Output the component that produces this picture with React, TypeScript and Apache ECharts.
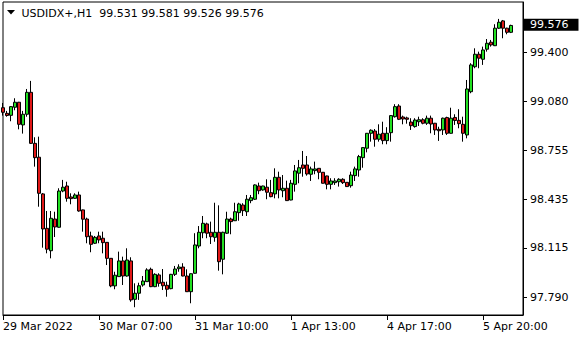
import React, { useEffect, useRef } from "react";
import * as echarts from "echarts";

const symbolTitle = "USDIDX+,H1";

const open = [
  99.036, 98.999, 98.986, 99.039, 99.072, 98.923, 98.993, 99.137, 98.802, 98.711,
  98.470, 98.244, 98.097, 98.305, 98.251, 98.489, 98.522, 98.450, 98.441, 98.463,
  98.365, 98.305, 98.194, 98.146, 98.194, 98.179, 98.152, 98.047, 97.866, 97.927,
  98.030, 97.931, 98.030, 97.778, 97.818, 97.872, 97.894, 97.975, 97.861, 97.938,
  97.890, 97.870, 97.848, 97.942, 97.979, 97.990, 97.931, 97.828, 97.949, 98.128,
  98.215, 98.273, 98.218, 98.185, 98.218, 98.041, 98.212, 98.305, 98.294, 98.347,
  98.397, 98.353, 98.426, 98.435, 98.522, 98.496, 98.514, 98.478, 98.470, 98.579,
  98.491, 98.507, 98.430, 98.533, 98.606, 98.660, 98.660, 98.599, 98.623, 98.638,
  98.612, 98.588, 98.533, 98.544, 98.550, 98.566, 98.546, 98.524, 98.590, 98.627,
  98.708, 98.770, 98.868, 98.883, 98.829, 98.868, 98.820, 98.872, 98.977, 99.047,
  98.975, 98.969, 98.942, 98.912, 98.944, 98.957, 98.934, 98.967, 98.934, 98.894,
  98.890, 98.971, 98.868, 98.972, 98.953, 98.927, 98.857, 99.141, 99.305, 99.387,
  99.354, 99.420, 99.466, 99.443, 99.558, 99.606, 99.558, 99.531,
];

const close = [
  99.006, 98.985, 99.043, 99.072, 98.927, 98.993, 99.137, 98.802, 98.708, 98.474,
  98.240, 98.107, 98.310, 98.253, 98.489, 98.514, 98.441, 98.439, 98.463, 98.358,
  98.304, 98.189, 98.139, 98.185, 98.168, 98.150, 98.047, 97.866, 97.936, 98.030,
  97.931, 98.036, 97.774, 97.818, 97.867, 97.898, 97.971, 97.861, 97.942, 97.883,
  97.867, 97.844, 97.942, 97.977, 97.990, 97.931, 97.828, 97.946, 98.135, 98.218,
  98.277, 98.212, 98.189, 98.218, 98.025, 98.218, 98.305, 98.288, 98.353, 98.404,
  98.360, 98.435, 98.445, 98.529, 98.491, 98.522, 98.481, 98.452, 98.579, 98.496,
  98.507, 98.426, 98.540, 98.621, 98.642, 98.638, 98.601, 98.634, 98.634, 98.612,
  98.540, 98.533, 98.555, 98.555, 98.566, 98.544, 98.518, 98.594, 98.634, 98.715,
  98.774, 98.868, 98.888, 98.829, 98.862, 98.820, 98.868, 98.984, 99.043, 98.960,
  98.962, 98.960, 98.918, 98.955, 98.957, 98.934, 98.967, 98.929, 98.890, 98.885,
  98.967, 98.868, 98.967, 98.952, 98.931, 98.868, 99.159, 99.317, 99.387, 99.361,
  99.415, 99.459, 99.448, 99.558, 99.597, 99.558, 99.531, 99.576,
];

const low = [
  98.984, 98.977, 98.947, 99.019, 98.894, 98.866, 98.977, 98.798, 98.649, 98.386,
  98.117, 98.080, 98.047, 98.187, 98.248, 98.481, 98.419, 98.402, 98.437, 98.353,
  98.222, 98.146, 98.087, 98.141, 98.146, 98.080, 98.003, 97.857, 97.844, 97.925,
  97.872, 97.927, 97.762, 97.726, 97.774, 97.861, 97.892, 97.858, 97.858, 97.861,
  97.839, 97.795, 97.844, 97.931, 97.959, 97.929, 97.826, 97.752, 97.947, 98.113,
  98.179, 98.179, 98.141, 98.156, 97.966, 97.942, 98.207, 98.205, 98.292, 98.294,
  98.325, 98.325, 98.409, 98.430, 98.468, 98.491, 98.435, 98.448, 98.441, 98.441,
  98.448, 98.424, 98.428, 98.485, 98.540, 98.583, 98.590, 98.555, 98.599, 98.566,
  98.538, 98.500, 98.500, 98.529, 98.518, 98.535, 98.516, 98.511, 98.555, 98.583,
  98.642, 98.743, 98.813, 98.780, 98.813, 98.796, 98.796, 98.813, 98.971, 98.955,
  98.927, 98.931, 98.890, 98.905, 98.916, 98.927, 98.923, 98.868, 98.857, 98.818,
  98.857, 98.857, 98.866, 98.923, 98.901, 98.813, 98.835, 99.131, 99.295, 99.295,
  99.317, 99.404, 99.437, 99.441, 99.553, 99.492, 99.518, 99.526,
];

const high = [
  99.067, 99.015, 99.047, 99.098, 99.074, 99.015, 99.159, 99.212, 98.842, 98.846,
  98.476, 98.358, 98.358, 98.353, 98.507, 98.562, 98.550, 98.474, 98.474, 98.485,
  98.367, 98.314, 98.222, 98.194, 98.222, 98.222, 98.154, 98.049, 97.959, 98.091,
  98.058, 98.113, 98.054, 97.883, 97.887, 97.931, 97.982, 97.986, 97.949, 97.949,
  97.977, 97.894, 97.945, 97.997, 98.008, 98.015, 97.975, 97.948, 98.212, 98.259,
  98.325, 98.281, 98.288, 98.412, 98.395, 98.222, 98.353, 98.314, 98.412, 98.412,
  98.409, 98.463, 98.463, 98.533, 98.544, 98.524, 98.566, 98.562, 98.638, 98.616,
  98.594, 98.557, 98.562, 98.660, 98.693, 98.752, 98.719, 98.649, 98.682, 98.640,
  98.614, 98.590, 98.573, 98.573, 98.573, 98.573, 98.548, 98.616, 98.649, 98.726,
  98.776, 98.870, 98.894, 98.896, 98.927, 98.944, 98.908, 98.988, 99.059, 99.059,
  98.984, 98.977, 98.967, 98.967, 98.977, 98.967, 98.984, 98.984, 98.936, 98.911,
  98.971, 98.977, 99.036, 98.993, 99.026, 98.977, 99.218, 99.328, 99.426, 99.404,
  99.437, 99.487, 99.481, 99.584, 99.619, 99.612, 99.561, 99.581,
];

const yTickValues = [97.79, 98.115, 98.435, 98.755, 99.08, 99.4];
const xTickLabels = [
  "29 Mar 2022",
  "30 Mar 07:00",
  "31 Mar 10:00",
  "1 Apr 13:00",
  "4 Apr 17:00",
  "5 Apr 20:00",
];
const xLabelStep = 24;
const emptyBarsRight = 3;
const yMin = 97.675;
const yMax = 99.73;

const fontFamily = "DejaVu Sans";
const fmt = (v: number) => v.toFixed(3);

export default function App() {
  const ref = useRef<HTMLDivElement>(null);

  useEffect(() => {
    document.body.style.margin = "0";
    const chart = echarts.init(ref.current!, null, { renderer: "svg" });
    const n = open.length;
    const last = n - 1;
    const cats = Array.from({ length: n + emptyBarsRight }, (_, i) => String(i));
    const data = open.map((o, i) => [o, close[i], low[i], high[i]]);
    const titleText = `${symbolTitle}  ${fmt(open[last])} ${fmt(high[last])} ${fmt(low[last])} ${fmt(close[last])}`;

    chart.setOption({
      animation: false,
      backgroundColor: "#ffffff",
      grid: {
        left: 3,
        right: 57,
        top: 2,
        bottom: 25,
        show: true,
        borderColor: "#000",
        borderWidth: 1,
        backgroundColor: "#fff",
      },
      xAxis: {
        type: "category",
        data: cats,
        boundaryGap: false,
        axisLine: { show: true, lineStyle: { color: "#000", width: 1 } },
        axisTick: {
          show: true,
          length: 5,
          interval: (i: number) => i % xLabelStep === 0,
          lineStyle: { color: "#000" },
        },
        axisLabel: {
          interval: (i: number) => i % xLabelStep === 0,
          formatter: (_v: string, i: number) => xTickLabels[i / xLabelStep] ?? "",
          align: "left",
          margin: 6,
          color: "#000",
          fontFamily,
          fontSize: 11,
        },
        splitLine: { show: false },
      },
      yAxis: {
        type: "value",
        position: "right",
        min: yMin,
        max: yMax,
        scale: true,
        axisLine: { show: true, lineStyle: { color: "#000", width: 1 } },
        axisTick: {
          show: true,
          length: 4,
          customValues: yTickValues,
          lineStyle: { color: "#000" },
        },
        axisLabel: {
          customValues: yTickValues,
          formatter: (v: number) => fmt(v),
          color: "#000",
          fontFamily,
          fontSize: 11,
          margin: 7,
        },
        splitLine: { show: false },
      },
      series: [
        {
          type: "candlestick",
          data,
          barWidth: 3,
          clip: false,
          itemStyle: {
            color: "#22e022",
            color0: "#e01818",
            borderColor: "#000",
            borderColor0: "#000",
            borderWidth: 1,
          },
          markLine: {
            silent: true,
            symbol: ["none", "none"],
            animation: false,
            lineStyle: { color: "rgba(0,0,0,0)", width: 0, type: "solid" },
            emphasis: { disabled: true },
            label: {
              show: true,
              position: "end",
              formatter: fmt(close[last]),
              color: "#fff",
              backgroundColor: "#000",
              padding: [1, 10, 0, 6],
              lineHeight: 11,
              distance: 1,
              fontFamily,
              fontSize: 11,
              opacity: 1,
            },
            data: [{ yAxis: close[last] }],
          },
        },
      ],
      graphic: [
        {
          type: "polygon",
          shape: { points: [[7, 10], [15, 10], [11, 14.5]] },
          style: { fill: "#000" },
        },
        {
          type: "text",
          x: 21.5,
          y: 13,
          style: {
            text: titleText,
            fill: "#000",
            fontFamily,
            fontSize: 11,
            verticalAlign: "middle",
          },
        },
      ],
    });

    return () => chart.dispose();
  }, []);

  return (
    <div
      ref={ref}
      style={{ position: "fixed", left: 0, top: 0, width: 580, height: 340, background: "#fff" }}
    />
  );
}
